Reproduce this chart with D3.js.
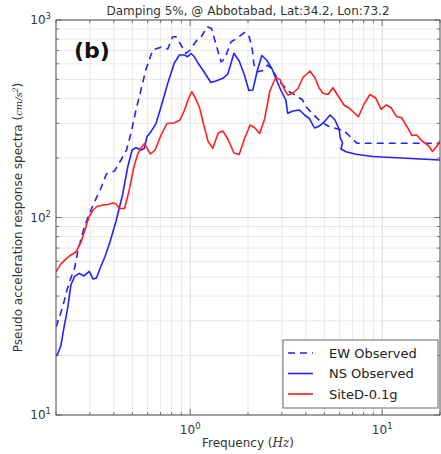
<!DOCTYPE html>
<html>
<head>
<meta charset="utf-8">
<script src="https://cdn.jsdelivr.net/npm/d3@7"></script>
<style>
  body { margin: 0; background: #fff; }
  svg { display: block; font-family: "DejaVu Sans", sans-serif; }
</style>
</head>
<body>
<svg id="chart"></svg>
<script>
// Chart size
const width = 441, height = 454;
const plot = { left: 56, right: 440, top: 20, bottom: 415 };

// EW Observed (dashed blue)
const freqEW = [0.200, 0.207, 0.218, 0.228, 0.239, 0.250, 0.260, 0.273, 0.287, 0.301, 0.312, 0.343, 0.366, 0.382, 0.403,
  0.436, 0.466, 0.492, 0.522, 0.554, 0.589, 0.638, 0.672, 0.705, 0.764, 0.811, 0.843, 0.896, 0.951, 0.998, 1.10, 1.14,
  1.23, 1.29, 1.37, 1.45, 1.52, 1.63, 1.73, 1.92, 2.02, 2.10, 2.15, 2.25, 2.39, 2.53, 2.69, 2.86, 3.03, 3.29, 3.56,
  3.85, 4.01, 4.35, 4.74, 5.22, 5.75, 6.32, 6.80, 7.39, 20.0];
const valEW = [27.9, 30.6, 36.1, 42.9, 49.4, 55.5, 67.7, 81.5, 94.9, 106.6, 115.7, 141.1, 166.1, 168.0, 172.0,
  195.5, 219.7, 267.8, 350.3, 442.2, 564.7, 704.9, 717.4, 727.5, 713.2, 823.1, 823.1, 747.3, 678.2, 704.9, 807.9, 823.1,
  924.8, 905.7, 738.6, 612.9, 642.2, 773.9, 801.2, 864.4, 834.7, 721.6, 591.8, 547.3, 554.9, 591.8, 558.2, 496.9, 468.8, 432.0, 414.7,
  393.4, 364.0, 334.2, 308.1, 290.7, 282.3, 275.8, 257.1, 237.6, 237.6];

// NS Observed (solid blue)
const freqNS = [0.200, 0.205, 0.212, 0.220, 0.230, 0.239, 0.250, 0.264, 0.280, 0.298, 0.312, 0.325, 0.339, 0.360, 0.382,
  0.411, 0.444, 0.474, 0.498, 0.522, 0.554, 0.577, 0.596, 0.625, 0.664, 0.705, 0.764, 0.826, 0.878, 0.932, 0.970, 1.01,
  1.05, 1.10, 1.18, 1.28, 1.36, 1.48, 1.57, 1.69, 1.80, 1.92, 2.02, 2.12, 2.24, 2.36, 2.51, 2.67, 2.80, 2.97, 3.15,
  3.22, 3.43, 3.71, 3.94, 4.18, 4.44, 4.71, 5.01, 5.35, 5.68, 5.98, 6.03, 6.21, 6.10, 6.48, 7.30, 8.92, 13.3, 20.0];
const valNS = [19.9, 20.6, 22.4, 27.6, 34.8, 45.5, 50.3, 52.1, 50.6, 53.3, 48.8, 49.4, 55.2, 63.5, 75.1,
  96.0, 130.0, 182.3, 219.7, 225.6, 219.7, 224.1, 257.1, 271.9, 299.9, 364.0, 478.1, 603.7, 664.9, 664.9, 651.9, 676.6,
  651.9, 603.7, 547.3, 482.6, 491.1, 506.8, 532.9, 678.2, 620.1, 523.6, 439.6, 442.2, 558.2, 661.0, 623.7, 564.7, 502.7, 439.6, 393.4,
  337.0, 346.2, 350.3, 330.3, 317.1, 283.9, 290.7, 306.3, 330.3, 311.7, 277.4, 255.6, 238.4, 222.3, 215.4, 208.9, 203.6, 199.4, 195.5];

// SiteD-0.1g (red)
const freqRed = [0.200, 0.212, 0.225, 0.239, 0.254, 0.270, 0.287, 0.297, 0.312, 0.327, 0.351, 0.373, 0.396, 0.411, 0.428,
  0.455, 0.480, 0.509, 0.531, 0.554, 0.578, 0.596, 0.621, 0.656, 0.705, 0.757, 0.823, 0.885, 0.934, 0.974, 1.02, 1.07,
  1.12, 1.17, 1.24, 1.31, 1.40, 1.48, 1.57, 1.69, 1.80, 1.92, 2.05, 2.16, 2.30, 2.44, 2.60, 2.78, 2.94, 3.12, 3.23,
  3.43, 3.64, 3.88, 4.21, 4.47, 4.69, 4.92, 5.22, 5.54, 5.85, 6.32, 6.75, 7.52, 8.04, 8.64, 9.28, 9.86, 10.5, 11.1,
  11.9, 12.6, 13.4, 14.3, 15.1, 16.1, 17.3, 18.3, 19.2, 20.0];
const valRed = [53.0, 58.2, 61.6, 64.6, 66.9, 75.1, 90.6, 100.6, 109.1, 113.7, 115.7, 116.4, 118.4, 117.0, 111.1,
  111.1, 136.2, 180.2, 207.3, 224.9, 237.0, 223.6, 209.7, 219.7, 261.6, 299.2, 301.0, 311.7, 350.3, 393.4, 433.5, 398.1,
  358.5, 301.0, 242.6, 224.1, 267.8, 274.1, 249.7, 212.2, 208.4, 251.2, 294.1, 285.6, 266.2, 315.3, 437.0, 508.6, 499.7, 437.0, 417.1,
  426.9, 449.9, 514.5, 551.7, 508.6, 452.5, 425.4, 419.5, 454.1, 417.1, 371.3, 357.2, 323.8, 375.6, 419.5, 401.4, 353.1, 371.3, 360.6,
  323.8, 320.8, 290.7, 260.1, 261.6, 244.0, 232.9, 215.9, 228.8, 244.0];

// Axis tick labels (10^exp)
const xMajor = [1, 10];
const xExp = ["0", "1"];
const yMajor = [10, 100, 1000];
const yExp = ["1", "2", "3"];

const seriesNames = ["EW Observed", "NS Observed", "SiteD-0.1g"];

const series = [
  { name: seriesNames[0], f: freqEW, v: valEW, color: "#2222ff", dash: "7,5" },
  { name: seriesNames[1], f: freqNS, v: valNS, color: "#2222ff", dash: null },
  { name: seriesNames[2], f: freqRed, v: valRed, color: "#ff2020", dash: null }
];

const svg = d3.select("#chart").attr("width", width).attr("height", height);

const x = d3.scaleLog().domain([0.2, 20]).range([plot.left, plot.right]);
const y = d3.scaleLog().domain([10, 1000]).range([plot.bottom, plot.top]);

// Grid (major + minor)
const grid = svg.append("g");
grid.selectAll("line.gx").data(x.ticks()).enter().append("line")
  .attr("x1", d => x(d)).attr("x2", d => x(d))
  .attr("y1", plot.top).attr("y2", plot.bottom)
  .attr("stroke", d => xMajor.includes(d) ? "#d8d8d8" : "#e8e8e8")
  .attr("stroke-width", 1);
grid.selectAll("line.gy").data(y.ticks()).enter().append("line")
  .attr("y1", d => y(d)).attr("y2", d => y(d))
  .attr("x1", plot.left).attr("x2", plot.right)
  .attr("stroke", d => yMajor.includes(d) ? "#d8d8d8" : "#e8e8e8")
  .attr("stroke-width", 1);

// Inward ticks on all four sides
const ticks = svg.append("g").attr("stroke", "#777").attr("stroke-width", 1);
x.ticks().forEach(d => {
  const len = xMajor.includes(d) ? 6 : 3;
  ticks.append("line").attr("x1", x(d)).attr("x2", x(d)).attr("y1", plot.bottom).attr("y2", plot.bottom - len);
  ticks.append("line").attr("x1", x(d)).attr("x2", x(d)).attr("y1", plot.top).attr("y2", plot.top + len);
});
y.ticks().forEach(d => {
  const len = yMajor.includes(d) ? 6 : 3;
  ticks.append("line").attr("y1", y(d)).attr("y2", y(d)).attr("x1", plot.left).attr("x2", plot.left + len);
  ticks.append("line").attr("y1", y(d)).attr("y2", y(d)).attr("x1", plot.right).attr("x2", plot.right - len);
});

// Clip for the curves
svg.append("clipPath").attr("id", "clip").append("rect")
  .attr("x", plot.left).attr("y", plot.top)
  .attr("width", plot.right - plot.left).attr("height", plot.bottom - plot.top);

const line = d3.line().x(d => x(d[0])).y(d => y(d[1]));

svg.append("g").attr("clip-path", "url(#clip)")
  .selectAll("path").data(series).enter().append("path")
  .attr("d", s => line(d3.zip(s.f, s.v)))
  .attr("fill", "none")
  .attr("stroke", s => s.color)
  .attr("stroke-width", 1.6)
  .attr("stroke-linejoin", "round")
  .attr("stroke-dasharray", s => s.dash);

// Frame
svg.append("rect")
  .attr("x", plot.left).attr("y", plot.top)
  .attr("width", plot.right - plot.left).attr("height", plot.bottom - plot.top)
  .attr("fill", "none").attr("stroke", "#555").attr("stroke-width", 1);

// Tick labels with superscript exponents
xMajor.forEach((d, i) => {
  const t = svg.append("text").attr("x", x(d)).attr("y", 434)
    .attr("text-anchor", "middle").attr("font-size", 12).attr("fill", "#333");
  t.append("tspan").text("10");
  t.append("tspan").attr("dy", -5).attr("font-size", 8.5).text(xExp[i]);
});
yMajor.forEach((d, i) => {
  const t = svg.append("text").attr("x", 51).attr("y", y(d) + 4)
    .attr("text-anchor", "end").attr("font-size", 12).attr("fill", "#333");
  t.append("tspan").text("10");
  t.append("tspan").attr("dy", -5).attr("font-size", 8.5).text(yExp[i]);
});

// Title
svg.append("text").attr("x", (plot.left + plot.right) / 2).attr("y", 15)
  .attr("text-anchor", "middle").attr("font-size", 12).attr("fill", "#333")
  .text("Damping 5%, @ Abbotabad, Lat:34.2, Lon:73.2");

// Panel label
svg.append("text").attr("x", 74).attr("y", 58)
  .attr("font-size", 22).attr("font-weight", "bold").attr("fill", "#111")
  .text("(b)");

// X axis label
const xl = svg.append("text").attr("x", (plot.left + plot.right) / 2).attr("y", 447)
  .attr("text-anchor", "middle").attr("font-size", 12).attr("fill", "#333");
xl.append("tspan").text("Frequency (");
xl.append("tspan").attr("font-family", "DejaVu Serif").attr("font-style", "italic").text("Hz");
xl.append("tspan").text(")");

// Y axis label
const yl = svg.append("text")
  .attr("transform", `translate(22,${(plot.top + plot.bottom) / 2}) rotate(-90)`)
  .attr("text-anchor", "middle").attr("font-size", 12).attr("fill", "#333");
yl.append("tspan").text("Pseudo acceleration response spectra (");
yl.append("tspan").attr("font-family", "DejaVu Serif").attr("font-style", "italic").attr("font-size", 10).text("cm/s");
yl.append("tspan").attr("font-family", "DejaVu Serif").attr("font-style", "italic").attr("font-size", 7.5).attr("dy", -4).text("2");
yl.append("tspan").attr("dy", 4).text(")");

// Legend
const lg = svg.append("g");
lg.append("rect").attr("x", 283).attr("y", 340).attr("width", 155).attr("height", 68)
  .attr("fill", "#fff").attr("stroke", "#666").attr("stroke-width", 1);
series.forEach((s, i) => {
  const ly = 353 + i * 20.5;
  lg.append("line").attr("x1", 288).attr("x2", 313).attr("y1", ly).attr("y2", ly)
    .attr("stroke", s.color).attr("stroke-width", 1.6).attr("stroke-dasharray", s.dash);
  lg.append("text").attr("x", 329).attr("y", ly + 4.5).attr("font-size", 13).attr("fill", "#222").text(s.name);
});
</script>
</body>
</html>
